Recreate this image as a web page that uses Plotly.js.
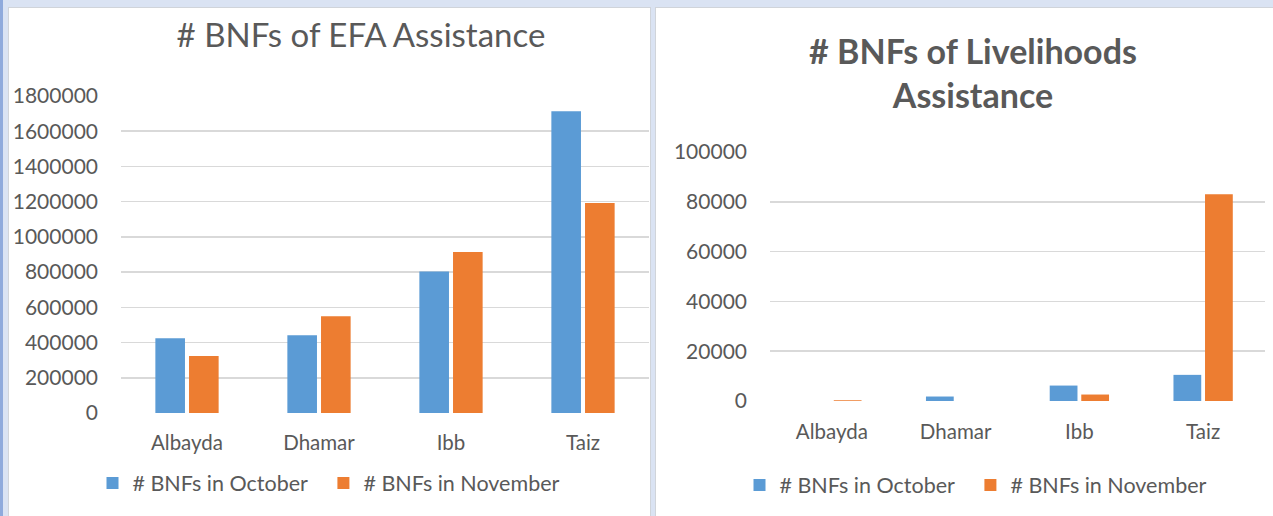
<!DOCTYPE html>
<html>
<head>
<meta charset="utf-8">
<script src="https://cdn.plot.ly/plotly-3.0.1.min.js"></script>
<style>
  html, body { margin: 0; padding: 0; }
  body { width: 1273px; height: 516px; background: #DAE3F3; position: relative; overflow: hidden; }
  #strip { position: absolute; left: 0; top: 0; width: 3px; height: 516px; background: #8FAADC; }
  .panel { position: absolute; background: #ffffff; box-sizing: border-box; border: 1px solid #D0D4DA; }
  #p1 { left: 8px; top: 7px; width: 643px; height: 520px; }
  #p2 { left: 655px; top: 7px; width: 630px; height: 520px; }
  #c1 { position: absolute; left: 0; top: 0; }
  #c2 { position: absolute; left: 0; top: 0; }
</style>
</head>
<body>
<div id="strip"></div>
<div class="panel" id="p1"><div id="c1"></div></div>
<div class="panel" id="p2"><div id="c2"></div></div>
<script>
// ---- data ----
const categories = ['Albayda', 'Dhamar', 'Ibb', 'Taiz'];
const seriesNames = ['# BNFs in October', '# BNFs in November'];
const efaOctober = [425000, 441000, 804000, 1714000];
const efaNovember = [323000, 549000, 914000, 1192000];
const livOctober = [0, 1800, 6200, 10500];
const livNovember = [300, 0, 2600, 83000];
const efaTicks = [0, 200000, 400000, 600000, 800000, 1000000, 1200000, 1400000, 1600000, 1800000];
const livTicks = [0, 20000, 40000, 60000, 80000, 100000];

// ---- styling ----
const FONT = 'Lato, "Open Sans", sans-serif';
const TXT = '#595959';
const BLUE = '#5B9BD5';
const ORANGE = '#ED7D31';
const GRID = '#D9D9D9';
const PAD = '\u00a0\u00a0';

function traces(oct, nov) {
  return [
    { type: 'bar', x: categories, y: oct, name: seriesNames[0] + PAD, marker: { color: BLUE }, hoverinfo: 'skip' },
    { type: 'bar', x: categories, y: nov, name: seriesNames[1], marker: { color: ORANGE }, hoverinfo: 'skip' }
  ];
}

function baseLayout(opts) {
  return {
    width: opts.width, height: opts.height,
    margin: opts.margin,
    paper_bgcolor: 'rgba(0,0,0,0)',
    plot_bgcolor: 'rgba(0,0,0,0)',
    font: { family: FONT, color: TXT, size: 20 },
    barmode: 'group',
    bargap: 0.49,
    bargroupgap: 0.12,
    showlegend: true,
    title: opts.title,
    xaxis: {
      type: 'category',
      showgrid: false, zeroline: false,
      showline: false,
      ticks: '', ticklabelstandoff: opts.xStandoff,
      tickfont: { family: FONT, color: TXT, size: 20.5 },
      fixedrange: true
    },
    yaxis: {
      range: opts.yrange,
      tickmode: 'array', tickvals: opts.ticks, ticktext: opts.ticks.map(v => String(v)),
      showgrid: true, gridcolor: GRID, gridwidth: 1.5,
      zeroline: false, showline: false,
      ticks: '', ticklabelstandoff: opts.yStandoff,
      tickfont: { family: FONT, color: TXT, size: 21 },
      fixedrange: true
    },
    legend: {
      orientation: 'h',
      xref: 'container', x: opts.legendX, xanchor: 'center',
      yref: 'container', y: opts.legendY, yanchor: 'middle',
      font: { family: FONT, color: TXT, size: 21.5 },
      itemwidth: 30,
      traceorder: 'normal'
    }
  };
}

const cfg = { staticPlot: true, displayModeBar: false };

// Left chart: EFA
const H1 = 509, W1 = 642;
Plotly.newPlot('c1', traces(efaOctober, efaNovember), baseLayout({
  width: W1, height: H1,
  margin: { l: 112, r: 2, t: 88, b: 104 },
  yrange: [0, 1800000],
  ticks: efaTicks,
  xStandoff: 15,
  yStandoff: 22,
  legendX: 320 / W1,
  legendY: 1 - 475 / H1,
  title: {
    text: '# BNFs of EFA Assistance',
    font: { family: FONT, color: TXT, size: 33 },
    xref: 'container', x: 352 / W1, xanchor: 'center',
    yref: 'container', y: 1 - 27 / H1, yanchor: 'middle'
  }
}), cfg);

// Right chart: Livelihoods
const H2 = 509, W2 = 617;
Plotly.newPlot('c2', traces(livOctober, livNovember), baseLayout({
  width: W2, height: H2,
  margin: { l: 114, r: 8, t: 144, b: 116 },
  yrange: [0, 100000],
  ticks: livTicks,
  xStandoff: 16,
  yStandoff: 22,
  legendX: 320 / W2,
  legendY: 1 - 477 / H2,
  title: {
    text: '<b># BNFs of Livelihoods<br>Assistance</b>',
    font: { family: FONT, color: TXT, size: 34 },
    xref: 'container', x: 317 / W2, xanchor: 'center',
    yref: 'container', y: 1 - 56 / H2, yanchor: 'middle'
  }
}), cfg);
</script>
</body>
</html>
